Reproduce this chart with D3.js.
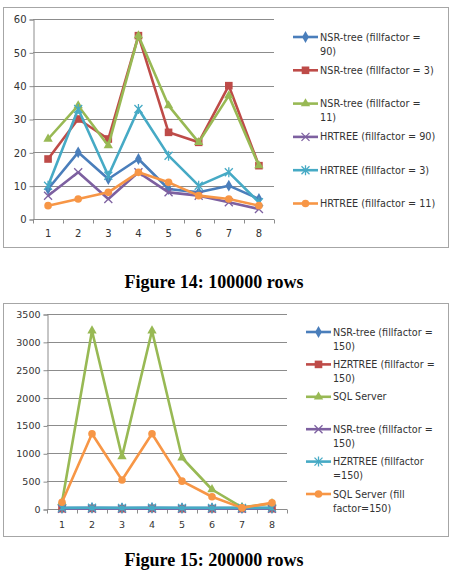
<!DOCTYPE html>
<html>
<head>
<meta charset="utf-8">
<script src="https://cdn.jsdelivr.net/npm/d3@7"></script>
<style>
  body { margin: 0; background: #fff; }
  svg { display: block; }
  .lbl { font-family: "DejaVu Sans", sans-serif; fill: #333; }
  .cap { font-family: "Liberation Serif", "Times New Roman", serif; font-weight: bold; font-size: 18px; fill: #000; }
</style>
</head>
<body>
<div id="chart"></div>
<script>
// categories on the x axis (both figures)
const categories = [1, 2, 3, 4, 5, 6, 7, 8];

// figure 14 (100000 rows)
const fig14Names = [
  ["NSR-tree (fillfactor =", "90)"],
  ["NSR-tree (fillfactor = 3)"],
  ["NSR-tree (fillfactor =", "11)"],
  ["HRTREE (fillfactor = 90)"],
  ["HRTREE (fillfactor = 3)"],
  ["HRTREE (fillfactor = 11)"]
];
const nsr90 = [9, 20, 12, 18, 9, 8, 10, 6];
const nsr3 = [18, 30, 24, 55, 26, 23, 40, 16];
const nsr11 = [24, 34, 22, 55, 34, 23, 37, 16];
const hr90 = [7, 14, 6, 14, 8, 7, 5, 3];
const hr3 = [10, 33, 13, 33, 19, 10, 14, 5];
const hr11 = [4, 6, 8, 14, 11, 7, 6, 4];
const fig14Ticks = [0, 10, 20, 30, 40, 50, 60];

// figure 15 (200000 rows)
const fig15Names = [
  ["NSR-tree (fillfactor =", "150)"],
  ["HZRTREE (fillfactor =", "150)"],
  ["SQL Server"],
  ["NSR-tree (fillfactor =", "150)"],
  ["HZRTREE (fillfactor", "=150)"],
  ["SQL Server (fill", "factor=150)"]
];
const nsrA150 = [15, 20, 15, 20, 15, 15, 15, 15];
const hzrA150 = [5, 10, 5, 10, 5, 5, 5, 5];
const sqlServer = [120, 3200, 940, 3200, 920, 350, 30, 100];
const nsrB150 = [5, 5, 5, 5, 5, 5, 5, 5];
const hzrB150 = [20, 22, 20, 22, 20, 20, 20, 20];
const sqlFill150 = [120, 1350, 520, 1350, 500, 220, 20, 110];
const fig15Ticks = [0, 500, 1000, 1500, 2000, 2500, 3000, 3500];

const colors = ["#4a7ebb", "#be4b48", "#98b954", "#7d60a0", "#46aac5", "#f79646"];
const markers = ["diamond", "square", "triangle", "x", "star", "circle"];

const svg = d3.select("#chart").append("svg")
  .attr("width", 459)
  .attr("height", 573);

// draws one marker shape centred at 0,0
const drawMarker = (g, type, color) => {
  if (type === "diamond") {
    g.append("path").attr("d", d3.symbol(d3.symbolDiamond, 40)()).attr("fill", color);
  } else if (type === "square") {
    g.append("rect").attr("x", -3.8).attr("y", -3.8).attr("width", 7.6).attr("height", 7.6).attr("fill", color);
  } else if (type === "triangle") {
    g.append("path").attr("d", d3.symbol(d3.symbolTriangle, 38)()).attr("fill", color);
  } else if (type === "circle") {
    g.append("circle").attr("r", 3.8).attr("fill", color);
  } else {
    const r = 4;
    let d = `M${-r},${-r}L${r},${r}M${-r},${r}L${r},${-r}`;
    if (type === "star") d += `M0,${-r - 1}L0,${r + 1}`;
    g.append("path").attr("d", d).attr("stroke", color).attr("stroke-width", 1.3).attr("fill", "none");
  }
};

const drawChart = (cfg) => {
  const g = svg.append("g");

  g.append("rect")
    .attr("x", cfg.box[0] + 0.5).attr("y", cfg.box[1] + 0.5)
    .attr("width", cfg.box[2]).attr("height", cfg.box[3])
    .attr("fill", "#fff").attr("stroke", "#a6a6a6");

  const xScale = d3.scaleBand().domain(categories).range([cfg.left, cfg.right]);
  const yScale = d3.scaleLinear().domain([0, d3.max(cfg.ticks)]).range([cfg.bottom, cfg.top]);

  // gridlines
  g.selectAll(".grid")
    .data(cfg.ticks.slice(1))
    .join("line")
    .attr("x1", cfg.left).attr("x2", cfg.right)
    .attr("y1", d => Math.round(yScale(d)) + 0.5).attr("y2", d => Math.round(yScale(d)) + 0.5)
    .attr("stroke", "#8c8c8c");

  // y axis
  const yAxis = g.append("g")
    .attr("transform", `translate(${cfg.left + 0.5},0.5)`)
    .call(d3.axisLeft(yScale).tickValues(cfg.ticks).tickFormat(d3.format("d")).tickSize(4).tickPadding(3));
  yAxis.select(".domain").attr("stroke", "#8c8c8c");
  yAxis.selectAll(".tick line").attr("stroke", "#8c8c8c");
  yAxis.selectAll("text").attr("class", "lbl").style("font-size", cfg.fs + "px").attr("font-family", null);

  // x axis, ticks sit between categories
  const baseY = Math.round(cfg.bottom) + 0.5;
  const xa = g.append("g").attr("transform", `translate(0,${baseY})`);
  xa.append("line").attr("x1", cfg.left).attr("x2", cfg.right).attr("stroke", "#8c8c8c");
  xa.selectAll(".xt")
    .data(categories.concat([9]))
    .join("line")
    .attr("x1", (d, i) => Math.round(cfg.left + i * xScale.bandwidth()) + 0.5)
    .attr("x2", (d, i) => Math.round(cfg.left + i * xScale.bandwidth()) + 0.5)
    .attr("y1", 0).attr("y2", 4)
    .attr("stroke", "#8c8c8c");
  xa.selectAll(".xl")
    .data(categories)
    .join("text")
    .attr("class", "lbl")
    .style("font-size", cfg.fs + "px")
    .attr("x", d => xScale(d) + xScale.bandwidth() / 2)
    .attr("y", cfg.xLabelY - baseY)
    .attr("text-anchor", "middle")
    .text(d => d);

  const line = d3.line()
    .x((d, i) => xScale(categories[i]) + xScale.bandwidth() / 2)
    .y(d => yScale(d));

  cfg.series.forEach((vals, si) => {
    g.append("path")
      .datum(vals)
      .attr("d", line)
      .attr("fill", "none")
      .attr("stroke", colors[si])
      .attr("stroke-width", 2.6)
      .attr("stroke-linejoin", "round");
    vals.forEach((v, i) => {
      const m = g.append("g")
        .attr("transform", `translate(${xScale(categories[i]) + xScale.bandwidth() / 2},${yScale(v)})`);
      drawMarker(m, markers[si], colors[si]);
    });
  });

  // legend
  cfg.names.forEach((lines, si) => {
    const y = cfg.legY + si * cfg.legStep;
    g.append("line")
      .attr("x1", cfg.legX).attr("x2", cfg.legX + 25)
      .attr("y1", y).attr("y2", y)
      .attr("stroke", colors[si]).attr("stroke-width", 2.6);
    const m = g.append("g").attr("transform", `translate(${cfg.legX + 12.5},${y})`);
    drawMarker(m, markers[si], colors[si]);
    const t = g.append("text")
      .attr("class", "lbl")
      .style("font-size", cfg.legFs + "px")
      .attr("x", cfg.legX + 27)
      .attr("y", y + 3.5);
    lines.forEach((s, li) => {
      t.append("tspan").attr("x", cfg.legX + 27).attr("dy", li === 0 ? 0 : 14).text(s);
    });
  });

  svg.append("text")
    .attr("class", "cap")
    .attr("x", 214)
    .attr("y", cfg.capY)
    .attr("text-anchor", "middle")
    .text(cfg.caption);
};

drawChart({
  box: [3, 7, 445, 240],
  left: 33, right: 274, top: 19, bottom: 219,
  ticks: fig14Ticks,
  series: [nsr90, nsr3, nsr11, hr90, hr3, hr11],
  names: fig14Names,
  fs: 10, legFs: 9.7,
  xLabelY: 237,
  legX: 293, legY: 37, legStep: 33.3,
  caption: "Figure 14: 100000 rows",
  capY: 288
});

drawChart({
  box: [3, 303, 445, 233],
  left: 47, right: 287, top: 314, bottom: 509,
  ticks: fig15Ticks,
  series: [nsrA150, hzrA150, sqlServer, nsrB150, hzrB150, sqlFill150],
  names: fig15Names,
  fs: 9.5, legFs: 9.6,
  xLabelY: 528,
  legX: 306, legY: 332, legStep: 32.4,
  caption: "Figure 15: 200000 rows",
  capY: 566
});
</script>
</body>
</html>
